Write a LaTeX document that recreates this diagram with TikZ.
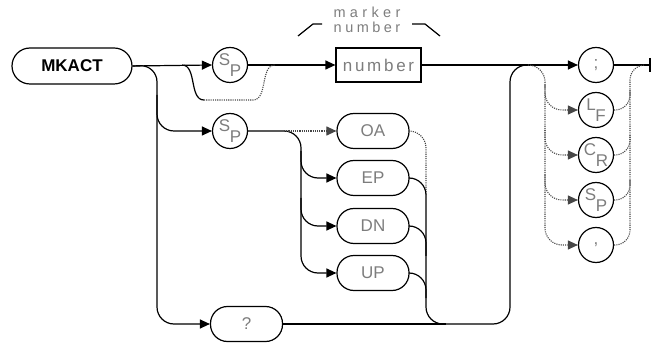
\documentclass[tikz,border=0pt]{standalone}
\usepackage{fontspec}
\setmainfont{Liberation Sans}
\usetikzlibrary{arrows.meta,calc}
\definecolor{txtgray}{RGB}{125,125,125}
\definecolor{dotgray}{RGB}{70,70,70}
\newcommand\spaced[2]{{\addfontfeature{LetterSpace=#1}#2}}
\newcommand\twolet[2]{\raisebox{5pt}{#1}\kern-0.5pt\raisebox{-6pt}{#2}}
\begin{document}
\begin{tikzpicture}[x=1pt,y=-1pt,
  line width=1.2pt,
  arr/.style={-{Triangle[length=10pt,width=9pt]}},
  rc/.style={rounded corners=17pt},
  rcs/.style={rounded corners=15pt},
  opt/.style={draw=dotgray, dash pattern=on 1.1pt off 1.1pt, line width=1.1pt},
  lbl/.style={text=txtgray, font=\fontsize{17}{17}\selectfont},
  term/.style={draw, rounded corners=17pt, minimum height=35pt, minimum width=72pt, inner sep=0pt, lbl},
  circ/.style={draw, circle, minimum size=35pt, inner sep=0pt, lbl},
]
\useasboundingbox (0,0) rectangle (652,344);

% nodes
\node[term, minimum width=120pt, minimum height=36pt, rounded corners=18pt, text=black,
      font=\bfseries\fontsize{17}{17}\selectfont] (mkact) at (72,66) {MKACT};
\node[circ] (sp1) at (230,65) {\twolet{S}{P}};
\node[draw, minimum width=85pt, minimum height=34pt, inner sep=0pt, lbl] (num) at (378.5,65)
     {\spaced{16}{number}};
\node[lbl, font=\fontsize{14.5}{15}\selectfont, align=center] (mlbl) at (367,20)
     {\spaced{30}{marker}\\\spaced{24}{number}};
\node[circ] (sp2) at (230,131) {\twolet{S}{P}};
\node[term] (oa) at (373,131) {OA};
\node[term] (ep) at (373,178) {EP};
\node[term] (dn) at (373,226) {DN};
\node[term] (up) at (373,273) {UP};
\node[term] (q) at (246.5,324) {?};
\node[circ] (semi) at (596,65) {;};
\node[circ] (lf) at (596,110) {\twolet{L}{F}};
\node[circ] (cr) at (596,155) {\twolet{C}{R}};
\node[circ] (spc) at (596,200) {\twolet{S}{P}};
\node[circ] (comma) at (596,245) {,};

% coordinates
\coordinate (cA) at (157,65);
\coordinate (cB) at (301,131);
\coordinate (oaS) at (284,131);
\coordinate (cC) at (426,131);
\coordinate (cD) at (510,65);
\coordinate (cE) at (545,65);
\coordinate (cF) at (630,65);
\coordinate (endc) at (650,65);
\coordinate (bpL) at (182,65);
\coordinate (bpM1) at (204,100);
\coordinate (bpM2) at (253,100);
\coordinate (bpR) at (275,65);
\coordinate (brL1) at (298,36);
\coordinate (brL2) at (313,24);
\coordinate (brL3) at (322,24);
\coordinate (brR1) at (412,24);
\coordinate (brR2) at (425,24);
\coordinate (brR3) at (440,36);

% marker number bracket
\draw (brL1) -- (brL2) -- (brL3);
\draw (brR1) -- (brR2) -- (brR3);

% main line
\draw[arr] (mkact.east) -- (sp1.west);
\draw[arr] (sp1.east) -- (num.west);
\draw (bpL) .. controls (197,65) and (189,100) .. (bpM1);
\draw[opt] (bpM1) -- (bpM2) .. controls (268,100) and (260,65) .. (bpR);

% left column
\draw[arr,rc] (mkact.east) -- (cA) -- (cA |- q.west) -- (q.west);
\draw[arr,rc] ($(cA)+(0,30)$) -- (cA |- sp2.west) -- (sp2.west);

% SP2 and column B
\draw[arr,rc] (sp2.east) -- (cB) -- (cB |- up.west) -- (up.west);
\draw[arr,opt] (oaS) -- (oa.west);
\draw[arr,rc] ($(cB)+(0,20)$) -- (cB |- ep.west) -- (ep.west);
\draw[arr,rc] ($(cB |- ep.west)+(0,20)$) -- (cB |- dn.west) -- (dn.west);

% column C and return
\draw[opt,rc] (oa.east) -- (cC) -- ($(cC)+(0,64)$);
\draw[rc] (ep.east) -- (cC |- ep.east) -- (cC |- q.east) -- (cD |- q.east) -- (cD) -- ($(cD)+(20,0)$);
\draw[rc] (dn.east) -- (cC |- dn.east) -- ($(cC |- dn.east)+(0,30)$);
\draw[rc] (up.east) -- (cC |- up.east) -- ($(cC |- up.east)+(0,25)$);
\draw (q.east) -- ($(cC |- q.east)+(20,0)$);

% terminators
\draw[arr] (num.east) -- (semi.west);
\draw (semi.east) -- (endc);
\draw ($(endc)+(0,-7)$) -- ($(endc)+(0,7)$);
\draw[opt,rc,arr] ($(cE)+(-17,0)$) -- (cE) -- (cE |- comma.west) -- (comma.west);
\draw[opt,rc,arr] ($(cE)+(0,20)$) -- (cE |- lf.west) -- (lf.west);
\draw[opt,rc,arr] ($(cE |- lf.west)+(0,20)$) -- (cE |- cr.west) -- (cr.west);
\draw[opt,rc,arr] ($(cE |- cr.west)+(0,20)$) -- (cE |- spc.west) -- (spc.west);
\draw[opt,rcs] (comma.east) -- (cF |- comma.east) -- (cF) -- ($(cF)+(15,0)$);
\draw[opt,rcs] (lf.east) -- (cF |- lf.east) -- ($(cF |- lf.east)+(0,-20)$);
\draw[opt,rcs] (cr.east) -- (cF |- cr.east) -- ($(cF |- cr.east)+(0,-20)$);
\draw[opt,rcs] (spc.east) -- (cF |- spc.east) -- ($(cF |- spc.east)+(0,-20)$);
\end{tikzpicture}
\end{document}
